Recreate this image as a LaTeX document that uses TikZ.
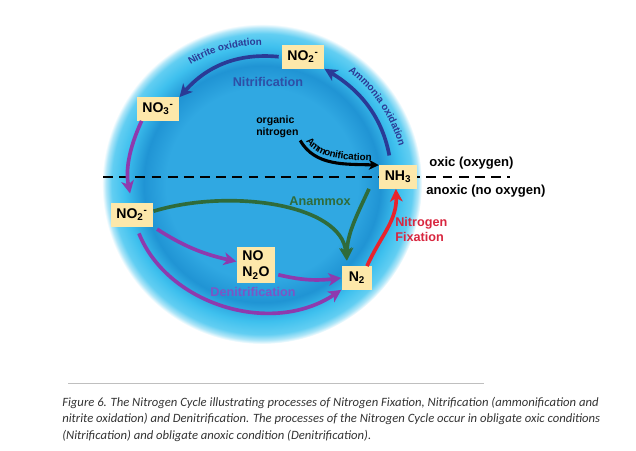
\documentclass[tikz,border=0pt]{standalone}
\usepackage{fontspec}
\setmainfont{Liberation Sans}
\newfontfamily\capfont{Carlito}
\usetikzlibrary{arrows.meta,decorations.text}

\definecolor{sphmid}{HTML}{30A8E2}
\definecolor{sphdeep}{HTML}{2094D4}
\definecolor{sphbright}{HTML}{3EC0EE}
\definecolor{sphlight}{HTML}{62CEF2}
\definecolor{sphpale}{HTML}{B0E6F8}
\definecolor{boxyellow}{HTML}{FDE8AA}
\definecolor{nitblue}{HTML}{2A3A96}
\definecolor{nittext}{HTML}{2E4FA6}
\definecolor{denpurple}{HTML}{8E3AAE}
\definecolor{dentext}{HTML}{7B56C6}
\definecolor{anagreen}{HTML}{2F6B3A}
\definecolor{fixred}{HTML}{E8232D}
\definecolor{fixtext}{HTML}{D8263F}
\definecolor{captext}{HTML}{333333}

\pgfdeclareradialshading{sphere}{\pgfpoint{0bp}{0bp}}{color(0bp)=(sphmid); color(15bp)=(sphmid); color(18.5bp)=(sphdeep); color(21.5bp)=(sphbright); color(23.5bp)=(sphlight); color(24.4bp)=(sphpale); color(25bp)=(white); color(50bp)=(white)}

\begin{document}
\begin{tikzpicture}[x=0.025cm, y=0.025cm,
  chembox/.style={fill=boxyellow, inner xsep=4pt, inner ysep=2pt, minimum height=16.5pt, minimum width=22pt, font=\fontsize{10}{11.5}\selectfont\bfseries},
  cyclearrow/.style={line width=2.6pt, -{Stealth[length=9pt,width=9pt,inset=2.5pt]}},
  proclabel/.style={font=\fontsize{9}{10.6}\selectfont\bfseries},
  zonelabel/.style={anchor=west, inner sep=0pt, font=\fontsize{9.3}{11}\selectfont\bfseries}]
  \useasboundingbox (0,0) rectangle (636,450);
  \coordinate (ctr) at (262,266);
  \shade[shading=sphere] (ctr) circle[radius=160];
  \draw[line width=1.6pt, dash pattern=on 7pt off 4.5pt] (103,273) -- (510,273);

  \node[chembox] (no2a) at (303,393) {NO\textsubscript{2}\textsuperscript{-}};
  \node[chembox] (no3) at (158,341) {NO\textsubscript{3}\textsuperscript{-}};
  \node[chembox] (nh3) at (398,273) {NH\textsubscript{3}};
  \node[chembox] (no2b) at (132,235) {NO\textsubscript{2}\textsuperscript{-}};
  \node[chembox, align=left, inner ysep=3pt] (nox) at (256,185) {NO\\N\textsubscript{2}O};
  \node[chembox] (n2) at (357,172) {N\textsubscript{2}};
  \node[anchor=west, align=left, inner sep=0pt, font=\fontsize{7.5}{8.2}\selectfont\bfseries] (orgn) at (256,323) {organic\\nitrogen};

  \draw[cyclearrow, nitblue, shorten <=2pt] (no2a.west) to[bend right=27] (no3.north east);
  \draw[cyclearrow, nitblue, shorten <=7pt] (nh3.120) to[bend right=24] (no2a.south east);
  \draw[line width=2.2pt, -{Stealth[length=7pt,width=7pt,inset=2pt]}, shorten <=2pt] (orgn.south east) to[out=-60,in=178] (nh3.north west);
  \draw[cyclearrow, denpurple, shorten >=7pt] (no3.216) to[bend right=18] (no2b.north);
  \draw[cyclearrow, denpurple, shorten <=3pt] (no2b.south east) to[bend right=10] (nox.170);
  \draw[cyclearrow, denpurple, shorten <=2pt] (nox.-25) to[bend right=10] (n2.west);
  \draw[cyclearrow, denpurple, shorten <=5pt] (no2b.-70) to[bend right=51] (n2.south west);
  \draw[cyclearrow, anagreen, shorten >=4pt] (no2b.10) .. controls (230,262) and (342,246) .. (n2.130);
  \draw[cyclearrow, anagreen, shorten >=4pt] ([xshift=-7pt]nh3.south west) to[out=-115,in=90] (n2.130);
  \draw[cyclearrow, fixred] (n2.50) to[out=66,in=-88] (nh3.-100);

  \path[decorate, decoration={text along path, text align=center, text={|\fontsize{7}{8}\selectfont\bfseries\color{nitblue}|Nitrite oxidation}}] ([shift={(124:139)}]ctr) arc[start angle=124, end angle=87, radius=139];
  \path[decorate, decoration={text along path, text align=center, text={|\fontsize{7.1}{8}\selectfont\bfseries\color{nitblue}|Ammonia oxidation}}] ([shift={(56:142)}]ctr) arc[start angle=56, end angle=12, radius=142];
  \path[decorate, decoration={text along path, text align=center, raise=3pt, text={|\fontsize{7}{8}\selectfont\bfseries|Ammonification}}] (orgn.south east) to[out=-60,in=178] (nh3.north west);

  \node[proclabel, text=nittext] (nitrif) at (268,368) {Nitrification};
  \node[proclabel, text=dentext] (denitrif) at (253,158) {Denitrification};
  \node[proclabel, text=anagreen] (anammox) at (320,249) {Anammox};
  \node[proclabel, text=fixtext, anchor=north west, align=left, inner sep=0pt] (nfix) at (395,233) {Nitrogen\\Fixation};
  \node[zonelabel] (oxic) at (429,287) {oxic (oxygen)};
  \node[zonelabel] (anoxic) at (426,259) {anoxic (no oxygen)};

  \draw[black!25, line width=0.6pt] (68,67) -- (484,67);
  \node[anchor=north west, align=left, inner sep=0pt, text=captext, font=\capfont\itshape\fontsize{9}{11.7}\selectfont] (caption) at (62,53) {Figure 6. The Nitrogen Cycle illustrating processes of Nitrogen Fixation, Nitrification (ammonification and\\nitrite oxidation) and Denitrification. The processes of the Nitrogen Cycle occur in obligate oxic conditions\\(Nitrification) and obligate anoxic condition (Denitrification).};
\end{tikzpicture}
\end{document}
